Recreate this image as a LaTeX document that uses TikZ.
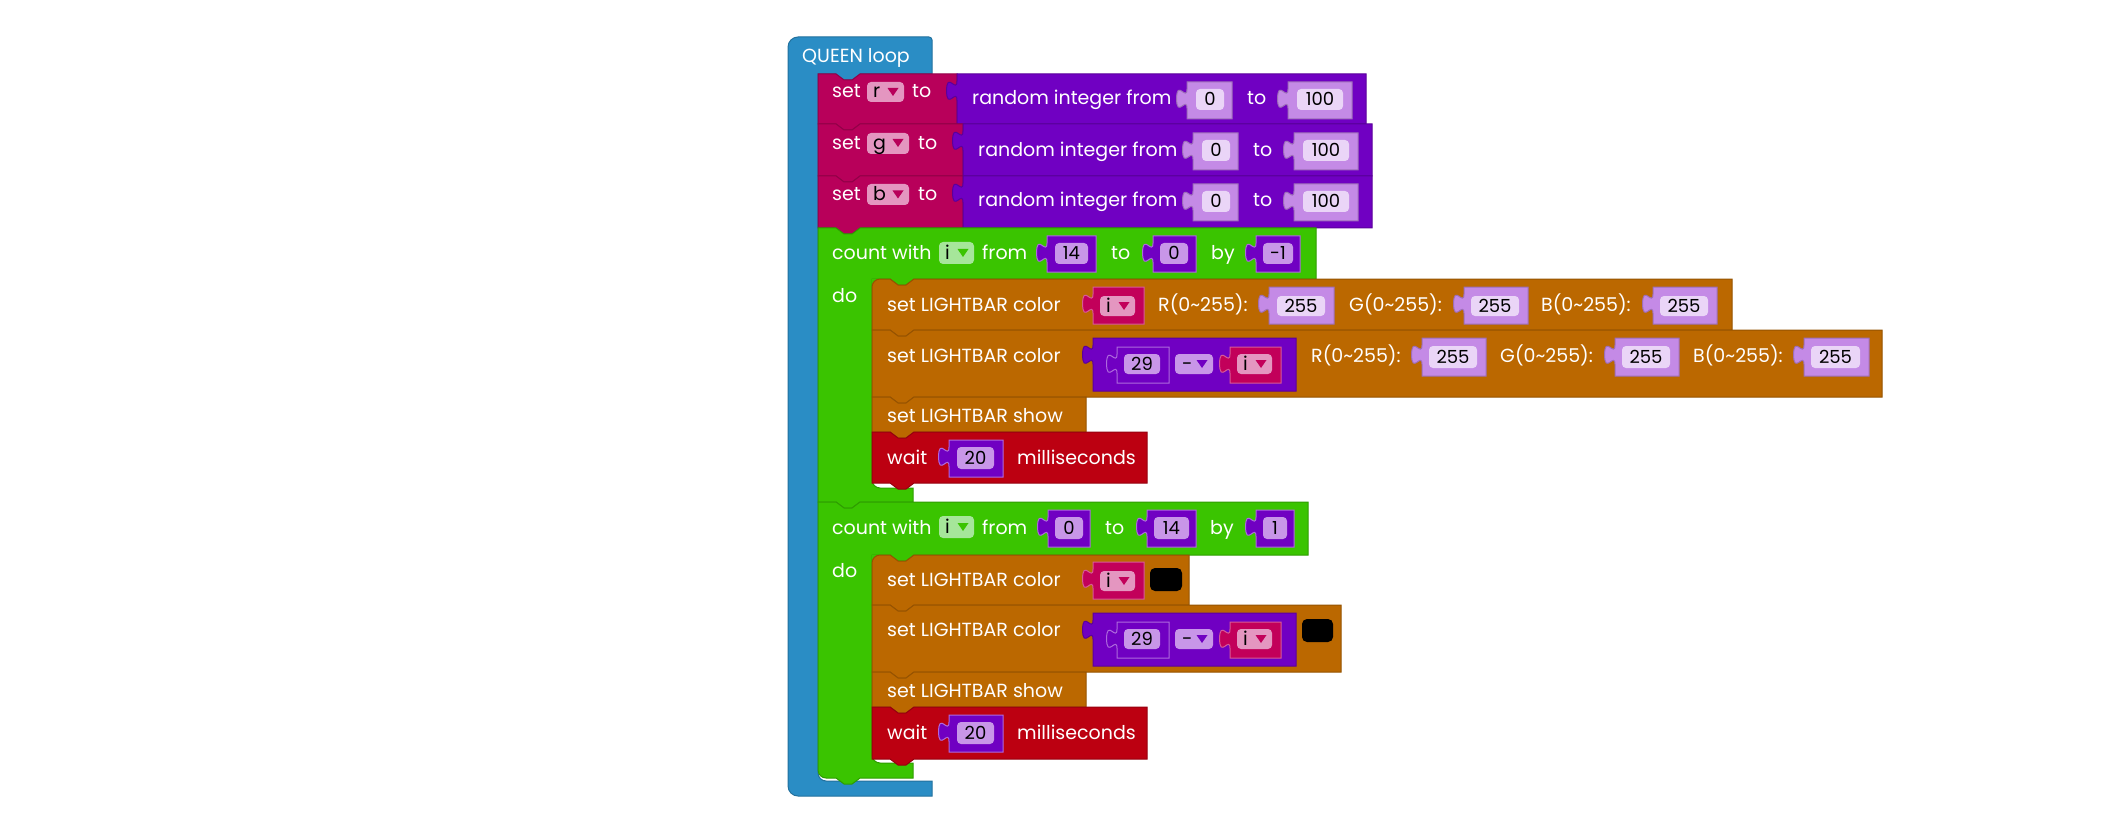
\documentclass[tikz,border=0pt]{standalone}
\usepackage{fontspec}
\setmainfont{Poppins}
\definecolor{blueC}{RGB}{42,141,197}
\definecolor{setred}{RGB}{184,0,90}
\definecolor{varpink}{RGB}{194,0,90}
\definecolor{pinkfield}{RGB}{228,150,192}
\definecolor{purpleC}{RGB}{112,0,194}
\definecolor{numlight}{RGB}{196,138,230}
\definecolor{numfield}{RGB}{234,213,247}
\definecolor{darkfield}{RGB}{200,150,232}
\definecolor{greenC}{RGB}{58,196,0}
\definecolor{greenfield}{RGB}{166,230,154}
\definecolor{brownC}{RGB}{187,104,0}
\definecolor{waitred}{RGB}{188,0,17}
\tikzset{
  lbl/.style={anchor=base west, inner sep=0pt, text=white, font=\fontsize{19}{22}\selectfont},
  dlbl/.style={anchor=base west, inner sep=0pt, text=black, font=\fontsize{19}{22}\selectfont},
  num/.style={anchor=base, inner sep=0pt, text=black, font=\fontsize{18}{22}\selectfont},
  edge/.style={line width=1pt},
}
% statement block with top notch and bottom tab
\newcommand\stmtblk[5]{%
  \filldraw[fill=#5, draw=#5!80!black, edge] (#1,#2) -- ({#1+18},#2) -- ({#1+26},{#2+6}) -- ({#1+34},{#2+6}) -- ({#1+42},#2) -- (#3,#2) -- (#3,#4) -- ({#1+42},#4) -- ({#1+34},{#4+6}) -- ({#1+26},{#4+6}) -- ({#1+18},#4) -- (#1,#4) -- cycle;}
% same with rounded top-left corner
\newcommand\stmtblkr[5]{%
  \filldraw[fill=#5, draw=#5!80!black, edge] (#1,{#2+8}) .. controls (#1,{#2+3.6}) and ({#1+3.6},#2) .. ({#1+8},#2) -- ({#1+18},#2) -- ({#1+26},{#2+6}) -- ({#1+34},{#2+6}) -- ({#1+42},#2) -- (#3,#2) -- (#3,#4) -- ({#1+42},#4) -- ({#1+34},{#4+6}) -- ({#1+26},{#4+6}) -- ({#1+18},#4) -- (#1,#4) -- cycle;}
% output (value) block with left puzzle tab
\newcommand\outblk[6]{%
  \filldraw[fill=#5, draw=#6, edge] (#1,#2) -- (#3,#2) -- (#3,#4) -- (#1,#4) -- (#1,{#2+26.5}) .. controls (#1,{#2+13.5}) and ({#1-10.4},{#2+36.9}) .. ({#1-10.4},{#2+16.75}) .. controls ({#1-10.4},{#2-3.4}) and (#1,{#2+20}) .. (#1,{#2+7}) -- cycle;}
\newcommand\fld[5]{\fill[#5, rounded corners=4pt] (#1,#2) rectangle (#3,#4);}
\newcommand\tri[3]{\fill[#3] ({#1-5.5},{#2-4}) -- ({#1+5.5},{#2-4}) -- (#1,{#2+4}) -- cycle;}
\begin{document}
\begin{tikzpicture}[x=1pt,y=-1pt]
\useasboundingbox[fill=white] (0,0) rectangle (2108,826);

% ===== QUEEN loop (blue C) =====
\filldraw[fill=blueC, draw=blueC!80!black, edge]
 (788,47) .. controls (788,41.5) and (792.5,37) .. (798,37)
 -- (929,37) .. controls (930.7,37) and (932,38.3) .. (932,40)
 -- (932,74) -- (860,74) -- (852,80) -- (844,80) -- (836,74) -- (818,74)
 -- (818,773) .. controls (818,777.4) and (821.6,781) .. (826,781)
 -- (932,781) -- (932,796) -- (798,796) .. controls (792.5,796) and (788,791.5) .. (788,786) -- cycle;
\node[lbl] (tqueen) at (802,63) {QUEEN loop};

% ===== set r =====
\stmtblk{818}{74}{957}{124}{setred}
\node[lbl] (tsetr) at (832,98) {set};
\fld{867}{82}{904}{102}{pinkfield}
\node[dlbl] (tvr) at (873,98) {r};
\tri{893}{92}{setred}
\node[lbl] (ttor) at (912,98) {to};
\outblk{957}{74}{1366}{124}{purpleC}{purpleC!80!black}
\node[lbl] (trandr) at (972,105) {random integer from};
\outblk{1187}{82}{1232}{119}{numlight}{numlight!80!black}
\fld{1196}{89}{1224}{110}{numfield}
\node[num] (nr0) at (1210,106) {0};
\node[lbl] (ttor2) at (1247,105) {to};
\outblk{1288}{82}{1352}{119}{numlight}{numlight!80!black}
\fld{1297}{89}{1343}{110}{numfield}
\node[num] (nr100) at (1320,106) {100};

% ===== set g =====
\stmtblk{818}{124}{963}{176}{setred}
\node[lbl] (tsetg) at (832,150) {set};
\fld{867}{133}{909}{154}{pinkfield}
\node[dlbl] (tvg) at (873,150) {g};
\tri{898}{143}{setred}
\node[lbl] (ttog) at (918,150) {to};
\outblk{963}{124}{1372}{176}{purpleC}{purpleC!80!black}
\node[lbl] (trandg) at (978,157) {random integer from};
\outblk{1193}{133}{1238}{170}{numlight}{numlight!80!black}
\fld{1202}{140}{1230}{161}{numfield}
\node[num] (ng0) at (1216,157) {0};
\node[lbl] (ttog2) at (1253,157) {to};
\outblk{1294}{133}{1358}{170}{numlight}{numlight!80!black}
\fld{1303}{140}{1349}{161}{numfield}
\node[num] (ng100) at (1326,157) {100};

% ===== set b =====
\stmtblk{818}{176}{963}{228}{setred}
\node[lbl] (tsetb) at (832,201) {set};
\fld{867}{184}{909}{205}{pinkfield}
\node[dlbl] (tvb) at (873,201) {b};
\tri{898}{194.5}{setred}
\node[lbl] (ttob) at (918,201) {to};
\outblk{963}{176}{1372}{228}{purpleC}{purpleC!80!black}
\node[lbl] (trandb) at (978,207) {random integer from};
\outblk{1193}{184}{1238}{221}{numlight}{numlight!80!black}
\fld{1202}{191}{1230}{212}{numfield}
\node[num] (nb0) at (1216,208) {0};
\node[lbl] (ttob2) at (1253,207) {to};
\outblk{1294}{184}{1358}{221}{numlight}{numlight!80!black}
\fld{1303}{191}{1349}{212}{numfield}
\node[num] (nb100) at (1326,208) {100};

% ===== count 1 (green C) =====
\filldraw[fill=greenC, draw=greenC!80!black, edge]
 (818,228) -- (836,228) -- (844,234) -- (852,234) -- (860,228) -- (1316,228) -- (1316,279)
 -- (914,279) -- (906,285) -- (898,285) -- (890,279) -- (872,279)
 -- (872,480) .. controls (872,484.4) and (875.6,488) .. (880,488)
 -- (913,488) -- (913,502) -- (860,502) -- (852,508) -- (844,508) -- (836,502) -- (818,502) -- cycle;
\node[lbl] (tcount1) at (832,259) {count with};
\fld{939}{242}{974}{264}{greenfield}
\node[dlbl] (tci1) at (945,259) {i};
\tri{963}{253}{greenC}
\node[lbl] (tfrom1) at (982,259) {from};
\outblk{1047}{236}{1096}{272}{purpleC}{darkfield!70!purpleC}
\fld{1055}{243}{1088}{264}{darkfield}
\node[num] (nc14) at (1071.5,260) {14};
\node[lbl] (tto1) at (1111,259) {to};
\outblk{1153}{236}{1196}{272}{purpleC}{darkfield!70!purpleC}
\fld{1160}{243}{1188}{264}{darkfield}
\node[num] (nc0) at (1174,260) {0};
\node[lbl] (tby1) at (1211,259) {by};
\outblk{1256}{236}{1300}{272}{purpleC}{darkfield!70!purpleC}
\fld{1263}{243}{1293}{264}{darkfield}
\node[num] (ncm1) at (1278,260) {-1};
\node[lbl] (tdo1) at (832,302) {do};

% color 1
\fill[greenC] (872,279) rectangle (881,288);
\stmtblkr{872}{279}{1732}{330}{brownC}
\node[lbl] (tcol1) at (887,311) {set LIGHTBAR color};
\outblk{1093}{287}{1144}{324}{varpink}{pinkfield!60!varpink}
\fld{1100}{296}{1135}{316}{pinkfield}
\node[dlbl] (tci1b) at (1106,312) {i};
\tri{1124}{306}{varpink}
\node[lbl] (tR1) at (1158,311) {R(0\char`\~255):};
\outblk{1269}{287}{1334}{324}{numlight}{numlight!80!black}
\fld{1277}{296}{1325}{316}{numfield}
\node[num] (nR1) at (1301,312.5) {255};
\node[lbl] (tG1) at (1349,311) {G(0\char`\~255):};
\outblk{1464}{287}{1528}{324}{numlight}{numlight!80!black}
\fld{1471}{296}{1519}{316}{numfield}
\node[num] (nG1) at (1495,312.5) {255};
\node[lbl] (tB1) at (1541,311) {B(0\char`\~255):};
\outblk{1653}{287}{1717}{324}{numlight}{numlight!80!black}
\fld{1660}{296}{1708}{316}{numfield}
\node[num] (nB1) at (1684,312.5) {255};

% color 2
\stmtblk{872}{330}{1882}{397}{brownC}
\node[lbl] (tcol2) at (887,362) {set LIGHTBAR color};
\outblk{1093}{338}{1296}{391}{purpleC}{purpleC!80!black}
\outblk{1117}{347}{1169}{383}{purpleC}{darkfield!70!purpleC}
\fld{1124}{354}{1160}{374}{darkfield}
\node[num] (n29a) at (1142,370.5) {29};
\fld{1175}{354}{1213}{374}{darkfield}
\node[dlbl] (tminus1) at (1182,370) {-};
\tri{1202}{364}{purpleC}
\outblk{1230}{347}{1281}{383}{varpink}{pinkfield!60!varpink}
\fld{1237}{354}{1272}{374}{pinkfield}
\node[dlbl] (tci2) at (1243,370) {i};
\tri{1261}{364}{varpink}
\node[lbl] (tR2) at (1311,362) {R(0\char`\~255):};
\outblk{1422}{338}{1486}{376}{numlight}{numlight!80!black}
\fld{1429}{346}{1477}{368}{numfield}
\node[num] (nR2) at (1453,363.5) {255};
\node[lbl] (tG2) at (1500,362) {G(0\char`\~255):};
\outblk{1615}{338}{1679}{376}{numlight}{numlight!80!black}
\fld{1622}{346}{1670}{368}{numfield}
\node[num] (nG2) at (1646,363.5) {255};
\node[lbl] (tB2) at (1693,362) {B(0\char`\~255):};
\outblk{1804}{338}{1869}{376}{numlight}{numlight!80!black}
\fld{1811}{346}{1860}{368}{numfield}
\node[num] (nB2) at (1835.5,363.5) {255};

% show 1
\stmtblk{872}{397}{1086}{432}{brownC}
\node[lbl] (tshow1) at (887,422) {set LIGHTBAR show};

% wait 1
\stmtblk{872}{432}{1147}{483}{waitred}
\node[lbl] (twait1) at (887,464) {wait};
\outblk{949}{440}{1003}{477}{purpleC}{darkfield!70!purpleC}
\fld{957}{447}{994}{469}{darkfield}
\node[num] (n20a) at (975.5,464.5) {20};
\node[lbl] (tms1) at (1017,464) {milliseconds};

% ===== count 2 (green C) =====
\filldraw[fill=greenC, draw=greenC!80!black, edge]
 (818,502) -- (836,502) -- (844,508) -- (852,508) -- (860,502) -- (1308,502) -- (1308,555)
 -- (914,555) -- (906,561) -- (898,561) -- (890,555) -- (872,555)
 -- (872,755) .. controls (872,759.4) and (875.6,763) .. (880,763)
 -- (913,763) -- (913,778) -- (860,778) -- (852,784) -- (844,784) -- (836,778) -- (826,778)
 .. controls (821.6,778) and (818,774.4) .. (818,770) -- cycle;
\node[lbl] (tcount2) at (832,534) {count with};
\fld{939}{516}{974}{538}{greenfield}
\node[dlbl] (tci3) at (945,533) {i};
\tri{963}{527}{greenC}
\node[lbl] (tfrom2) at (982,534) {from};
\outblk{1048}{510}{1090}{547}{purpleC}{darkfield!70!purpleC}
\fld{1055}{517}{1083}{539}{darkfield}
\node[num] (nd0) at (1069,534.5) {0};
\node[lbl] (tto2) at (1105,534) {to};
\outblk{1147}{510}{1196}{547}{purpleC}{darkfield!70!purpleC}
\fld{1154}{517}{1189}{539}{darkfield}
\node[num] (nd14) at (1171.5,534.5) {14};
\node[lbl] (tby2) at (1210,534) {by};
\outblk{1256}{510}{1294}{547}{purpleC}{darkfield!70!purpleC}
\fld{1263}{517}{1287}{539}{darkfield}
\node[num] (nd1) at (1275,534.5) {1};
\node[lbl] (tdo2) at (832,577) {do};

% color 3
\fill[greenC] (872,555) rectangle (881,564);
\stmtblkr{872}{555}{1189}{605}{brownC}
\node[lbl] (tcol3) at (887,586) {set LIGHTBAR color};
\outblk{1093}{562}{1144}{599}{varpink}{pinkfield!60!varpink}
\fld{1100}{571}{1135}{591}{pinkfield}
\node[dlbl] (tci4) at (1106,587) {i};
\tri{1124}{581}{varpink}
\fill[black, rounded corners=5pt] (1150,568) rectangle (1182,591);

% color 4
\stmtblk{872}{605}{1341}{672}{brownC}
\node[lbl] (tcol4) at (887,636) {set LIGHTBAR color};
\outblk{1093}{613}{1296}{666}{purpleC}{purpleC!80!black}
\outblk{1117}{622}{1169}{658}{purpleC}{darkfield!70!purpleC}
\fld{1124}{629}{1160}{649}{darkfield}
\node[num] (n29b) at (1142,645.5) {29};
\fld{1175}{629}{1213}{649}{darkfield}
\node[dlbl] (tminus2) at (1182,645) {-};
\tri{1202}{639}{purpleC}
\outblk{1230}{622}{1281}{658}{varpink}{pinkfield!60!varpink}
\fld{1237}{629}{1272}{649}{pinkfield}
\node[dlbl] (tci5) at (1243,645) {i};
\tri{1261}{639}{varpink}
\fill[black, rounded corners=5pt] (1302,619) rectangle (1333,642);

% show 2
\stmtblk{872}{672}{1086}{707}{brownC}
\node[lbl] (tshow2) at (887,697) {set LIGHTBAR show};

% wait 2
\stmtblk{872}{707}{1147}{759}{waitred}
\node[lbl] (twait2) at (887,739) {wait};
\outblk{949}{715}{1003}{752}{purpleC}{darkfield!70!purpleC}
\fld{957}{722}{994}{744}{darkfield}
\node[num] (n20b) at (975.5,739.5) {20};
\node[lbl] (tms2) at (1017,739) {milliseconds};
\end{tikzpicture}
\end{document}
